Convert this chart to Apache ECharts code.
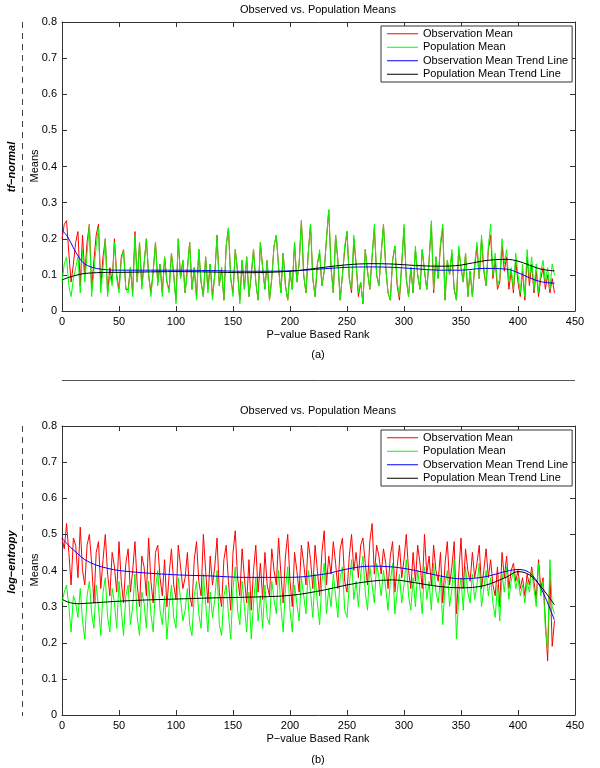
<!DOCTYPE html>
<html>
<head>
<meta charset="utf-8">
<script src="https://cdn.jsdelivr.net/npm/echarts@6/dist/echarts.min.js"></script>
<style>html,body{margin:0;padding:0;background:#fff}#c{width:600px;height:768px}</style>
</head>
<body>
<div id="c"></div>
<script>
// ---------- DATA ----------
const seriesNames = ['Observation Mean', 'Population Mean', 'Observation Mean Trend Line', 'Population Mean Trend Line'];
const xTicks = [0, 50, 100, 150, 200, 250, 300, 350, 400, 450];
const yTicks = [0, 0.1, 0.2, 0.3, 0.4, 0.5, 0.6, 0.7, 0.8];
// ranks sampled every 2 (0,2,...,432)
const ranks = Array.from({length: 217}, (_, i) => i * 2);

// (a) tf-normal
const aObs = [
0.20,0.24,0.25,0.16,0.08,0.13,0.19,0.22,0.07,0.21,
0.10,0.19,0.24,0.06,0.14,0.21,0.24,0.07,0.15,0.20,
0.05,0.12,0.08,0.20,0.10,0.06,0.15,0.17,0.06,0.06,
0.12,0.05,0.22,0.08,0.19,0.07,0.13,0.20,0.10,0.05,
0.11,0.19,0.08,0.13,0.05,0.15,0.08,0.06,0.16,0.10,
0.03,0.20,0.09,0.14,0.05,0.12,0.19,0.06,0.12,0.04,
0.17,0.08,0.04,0.15,0.06,0.13,0.04,0.10,0.21,0.07,
0.12,0.03,0.18,0.23,0.09,0.05,0.17,0.11,0.03,0.14,
0.06,0.15,0.04,0.10,0.17,0.08,0.03,0.19,0.12,0.06,
0.14,0.03,0.09,0.18,0.21,0.12,0.05,0.16,0.07,0.03,
0.11,0.06,0.19,0.08,0.13,0.25,0.10,0.05,0.16,0.24,
0.09,0.04,0.13,0.16,0.07,0.11,0.20,0.28,0.12,0.05,
0.21,0.14,0.03,0.10,0.17,0.22,0.09,0.05,0.20,0.13,
0.04,0.08,0.02,0.17,0.11,0.06,0.15,0.23,0.10,0.07,
0.16,0.24,0.12,0.05,0.03,0.14,0.18,0.07,0.03,0.13,
0.23,0.09,0.04,0.12,0.05,0.17,0.10,0.06,0.17,0.11,
0.06,0.14,0.24,0.05,0.15,0.09,0.18,0.23,0.03,0.14,
0.10,0.16,0.06,0.03,0.17,0.12,0.08,0.16,0.04,0.11,
0.04,0.12,0.18,0.09,0.20,0.11,0.07,0.17,0.21,0.09,
0.14,0.06,0.08,0.18,0.11,0.15,0.06,0.11,0.05,0.14,
0.08,0.04,0.11,0.03,0.15,0.07,0.13,0.05,0.11,0.04,
0.09,0.12,0.06,0.10,0.05,0.09,0.05];
const aPop = [
0.08,0.13,0.15,0.07,0.04,0.09,0.12,0.15,0.05,0.17,
0.08,0.16,0.24,0.04,0.11,0.18,0.23,0.05,0.12,0.20,
0.04,0.10,0.07,0.19,0.09,0.05,0.14,0.17,0.06,0.05,
0.12,0.04,0.21,0.08,0.19,0.06,0.13,0.20,0.10,0.04,
0.11,0.19,0.07,0.13,0.04,0.15,0.08,0.05,0.16,0.10,
0.02,0.20,0.09,0.14,0.05,0.11,0.19,0.06,0.12,0.03,
0.17,0.08,0.04,0.15,0.05,0.13,0.03,0.10,0.21,0.07,
0.12,0.03,0.18,0.23,0.09,0.04,0.17,0.11,0.02,0.14,
0.06,0.15,0.04,0.10,0.17,0.08,0.03,0.19,0.12,0.06,
0.14,0.03,0.09,0.18,0.21,0.12,0.05,0.16,0.07,0.03,
0.11,0.06,0.19,0.08,0.13,0.25,0.10,0.05,0.16,0.24,
0.09,0.04,0.13,0.17,0.07,0.11,0.20,0.28,0.12,0.05,
0.21,0.14,0.03,0.10,0.18,0.22,0.09,0.06,0.21,0.13,
0.05,0.08,0.02,0.17,0.11,0.06,0.15,0.24,0.10,0.07,
0.16,0.24,0.12,0.05,0.03,0.14,0.18,0.08,0.04,0.13,
0.24,0.09,0.04,0.12,0.05,0.18,0.10,0.06,0.17,0.11,
0.06,0.14,0.25,0.06,0.15,0.09,0.19,0.24,0.03,0.14,
0.10,0.17,0.06,0.03,0.18,0.12,0.08,0.16,0.04,0.11,
0.04,0.13,0.19,0.09,0.21,0.12,0.07,0.18,0.24,0.10,
0.16,0.07,0.09,0.20,0.13,0.17,0.08,0.12,0.06,0.16,
0.10,0.05,0.13,0.04,0.17,0.09,0.15,0.06,0.13,0.05,
0.11,0.14,0.08,0.12,0.06,0.13,0.10];
const trendRanks = [0,5,10,15,20,30,40,50,70,100,130,160,200,230,250,270,290,310,330,350,370,390,400,410,420,432];
const aObsTrend = [0.224,0.205,0.175,0.148,0.130,0.118,0.114,0.113,0.113,0.113,0.112,0.110,0.111,0.117,0.121,0.122,0.121,0.117,0.113,0.113,0.118,0.116,0.106,0.092,0.081,0.077];
const aPopTrend = [0.086,0.092,0.097,0.101,0.104,0.106,0.107,0.107,0.108,0.109,0.108,0.106,0.110,0.121,0.128,0.131,0.130,0.126,0.124,0.127,0.139,0.143,0.138,0.127,0.116,0.111];

// (b) log-entropy
const bObs = [
0.49,0.46,0.53,0.45,0.36,0.49,0.47,0.38,0.52,0.40,
0.36,0.47,0.50,0.42,0.31,0.45,0.48,0.35,0.43,0.50,
0.39,0.33,0.45,0.41,0.34,0.48,0.37,0.31,0.42,0.46,
0.34,0.40,0.48,0.36,0.30,0.44,0.41,0.33,0.49,0.37,
0.31,0.45,0.47,0.38,0.33,0.43,0.30,0.39,0.46,0.36,
0.32,0.47,0.41,0.35,0.38,0.45,0.33,0.30,0.43,0.48,
0.37,0.33,0.50,0.40,0.31,0.44,0.36,0.41,0.49,0.34,
0.30,0.43,0.47,0.37,0.29,0.45,0.51,0.38,0.33,0.46,
0.38,0.31,0.43,0.29,0.40,0.47,0.34,0.42,0.32,0.45,
0.36,0.33,0.46,0.40,0.36,0.49,0.39,0.31,0.44,0.50,
0.37,0.30,0.45,0.40,0.34,0.47,0.42,0.36,0.48,0.43,
0.35,0.47,0.40,0.33,0.45,0.51,0.36,0.44,0.39,0.48,
0.42,0.35,0.46,0.49,0.37,0.34,0.44,0.50,0.40,0.45,
0.38,0.47,0.49,0.42,0.36,0.48,0.53,0.39,0.47,0.44,
0.39,0.46,0.42,0.35,0.44,0.48,0.34,0.41,0.47,0.38,
0.43,0.50,0.40,0.35,0.45,0.37,0.47,0.42,0.35,0.50,
0.39,0.44,0.36,0.47,0.40,0.37,0.45,0.31,0.42,0.48,
0.36,0.41,0.48,0.28,0.39,0.49,0.35,0.46,0.40,0.37,
0.45,0.38,0.42,0.47,0.35,0.40,0.46,0.38,0.43,0.36,
0.33,0.41,0.30,0.45,0.38,0.44,0.35,0.40,0.42,0.37,
0.40,0.35,0.38,0.33,0.39,0.36,0.41,0.37,0.32,0.43,
0.35,0.38,0.26,0.15,0.40,0.19,0.26];
const bPop = [
0.31,0.34,0.36,0.30,0.23,0.33,0.31,0.27,0.35,0.26,
0.21,0.33,0.37,0.28,0.24,0.36,0.30,0.22,0.34,0.38,
0.27,0.23,0.35,0.31,0.24,0.37,0.29,0.22,0.33,0.36,
0.25,0.30,0.39,0.27,0.22,0.34,0.31,0.24,0.37,0.28,
0.23,0.35,0.40,0.29,0.25,0.33,0.21,0.30,0.36,0.27,
0.24,0.38,0.32,0.26,0.29,0.35,0.25,0.22,0.33,0.37,
0.28,0.24,0.39,0.31,0.23,0.34,0.27,0.32,0.40,0.25,
0.22,0.33,0.36,0.28,0.21,0.35,0.41,0.29,0.25,0.37,
0.30,0.23,0.34,0.21,0.31,0.38,0.26,0.33,0.24,0.36,
0.27,0.25,0.37,0.32,0.28,0.40,0.30,0.23,0.35,0.41,
0.29,0.23,0.36,0.31,0.26,0.38,0.33,0.28,0.40,0.34,
0.27,0.39,0.31,0.25,0.37,0.42,0.28,0.35,0.30,0.39,
0.33,0.27,0.38,0.41,0.29,0.27,0.36,0.43,0.32,0.37,
0.30,0.39,0.44,0.34,0.29,0.41,0.36,0.31,0.42,0.38,
0.33,0.40,0.35,0.29,0.37,0.42,0.28,0.34,0.39,0.31,
0.36,0.43,0.33,0.29,0.38,0.30,0.40,0.35,0.28,0.41,
0.32,0.37,0.29,0.42,0.34,0.31,0.38,0.25,0.36,0.40,
0.30,0.35,0.43,0.21,0.33,0.38,0.29,0.41,0.34,0.31,
0.39,0.32,0.36,0.42,0.30,0.35,0.40,0.33,0.38,0.31,
0.27,0.36,0.26,0.39,0.34,0.41,0.32,0.37,0.40,0.35,
0.38,0.33,0.36,0.31,0.37,0.34,0.40,0.35,0.30,0.42,
0.33,0.37,0.24,0.18,0.43,0.30,0.28];
const bObsTrend = [0.490,0.472,0.457,0.443,0.430,0.415,0.406,0.400,0.394,0.388,0.385,0.381,0.381,0.390,0.404,0.412,0.410,0.400,0.386,0.377,0.382,0.398,0.403,0.394,0.352,0.262];
const bPopTrend = [0.320,0.313,0.309,0.308,0.309,0.311,0.313,0.315,0.318,0.321,0.324,0.326,0.331,0.346,0.360,0.370,0.374,0.366,0.356,0.352,0.358,0.382,0.397,0.388,0.356,0.305];

[aObs, aPop, bObs, bPop].forEach(a => { if (a.length !== ranks.length) throw new Error('length ' + a.length); });

// ---------- CHART ----------
const FONT = 'Liberation Sans, Arial, Helvetica, sans-serif';
const pair = (xs, ys) => ys.map((v, i) => [xs[i], v]);
const colors = ['#ff0000', '#00ff00', '#0000ff', '#000000'];
const grids = [{left: 62, top: 22, width: 513, height: 289}, {left: 62, top: 426, width: 513, height: 289}];
const axisColor = '#333';

function xAx(gi, pos) {
  return {
    type: 'value', gridIndex: gi, position: pos, min: xTicks[0], max: xTicks[xTicks.length - 1], interval: 50,
    axisLine: {show: true, onZero: false, lineStyle: {color: axisColor, width: 1}},
    axisTick: {show: true, inside: true, length: 5, lineStyle: {color: axisColor}},
    axisLabel: {show: pos === 'bottom', color: '#000', fontFamily: FONT, fontSize: 11, margin: 5},
    splitLine: {show: false}
  };
}
function yAx(gi, pos) {
  return {
    type: 'value', gridIndex: gi, position: pos, min: yTicks[0], max: yTicks[yTicks.length - 1], interval: 0.1,
    axisLine: {show: true, onZero: false, lineStyle: {color: axisColor, width: 1}},
    axisTick: {show: true, inside: true, length: 5, lineStyle: {color: axisColor}},
    axisLabel: {show: pos === 'left', color: '#000', fontFamily: FONT, fontSize: 11, margin: 5,
      formatter: v => (Math.round(v * 10) / 10).toString()},
    splitLine: {show: false}
  };
}

function lineSeries(name, data, gi, color) {
  return {
    type: 'line', name, data, xAxisIndex: gi * 2, yAxisIndex: gi * 2,
    symbol: 'none', showSymbol: false, lineStyle: {color, width: 1}, itemStyle: {color},
    silent: true
  };
}
function trendSeries(name, xs, ys, gi, color) {
  const s = lineSeries(name, pair(xs, ys), gi, color);
  s.smooth = 0.35;
  return s;
}

function legendAt(top) {
  return {
    orient: 'vertical', left: 381, top, itemWidth: 31, itemHeight: 13.5, itemGap: 0,
    icon: 'path://M0,0H62V2H0Z',
    padding: [1, 4, 1, 6], borderColor: '#333', borderWidth: 1, backgroundColor: '#fff',
    data: seriesNames, selectedMode: false,
    textStyle: {fontFamily: FONT, fontSize: 11, color: '#000', lineHeight: 13.5}
  };
}

function txt(text, x, y, extra) {
  return Object.assign({type: 'text', x, y, silent: true,
    style: Object.assign({text, fill: '#000', font: '11px ' + FONT, textAlign: 'center', textVerticalAlign: 'middle'}, extra || {})});
}
function rotTxt(text, x, y, font) {
  return {type: 'text', x, y, rotation: Math.PI / 2, silent: true,
    style: {text, fill: '#000', font, textAlign: 'center', textVerticalAlign: 'middle'}};
}
function dashed(y1, y2) {
  return {type: 'line', silent: true, shape: {x1: 22.5, y1, x2: 22.5, y2}, style: {stroke: '#444', lineWidth: 1, lineDash: [6, 5]}};
}

const option = {
  animation: false,
  backgroundColor: '#fff',
  grid: grids,
  xAxis: [xAx(0, 'bottom'), xAx(0, 'top'), xAx(1, 'bottom'), xAx(1, 'top')],
  yAxis: [yAx(0, 'left'), yAx(0, 'right'), yAx(1, 'left'), yAx(1, 'right')],
  legend: [legendAt(26), legendAt(430)],
  series: [
    lineSeries(seriesNames[0], pair(ranks, aObs), 0, colors[0]),
    lineSeries(seriesNames[1], pair(ranks, aPop), 0, colors[1]),
    trendSeries(seriesNames[2], trendRanks, aObsTrend, 0, colors[2]),
    trendSeries(seriesNames[3], trendRanks, aPopTrend, 0, colors[3]),
    lineSeries(seriesNames[0], pair(ranks, bObs), 1, colors[0]),
    lineSeries(seriesNames[1], pair(ranks, bPop), 1, colors[1]),
    trendSeries(seriesNames[2], trendRanks, bObsTrend, 1, colors[2]),
    trendSeries(seriesNames[3], trendRanks, bPopTrend, 1, colors[3])
  ],
  graphic: [
    txt('Observed vs. Population Means', 318, 10),
    txt('P\u2212value Based Rank', 318, 335),
    txt('(a)', 318, 355),
    {type: 'line', silent: true, shape: {x1: 62, y1: 380.5, x2: 575, y2: 380.5}, style: {stroke: '#555', lineWidth: 1}},
    txt('Observed vs. Population Means', 318, 411),
    txt('P\u2212value Based Rank', 318, 739),
    txt('(b)', 318, 760),
    rotTxt('Means', 35, 166, '11px ' + FONT),
    rotTxt('Means', 35, 570, '11px ' + FONT),
    rotTxt('tf\u2212normal', 12, 167, 'italic bold 11px ' + FONT),
    rotTxt('log\u2212entropy', 12, 562, 'italic bold 11px ' + FONT),
    dashed(22, 312),
    dashed(426, 716)
  ]
};

const chart = echarts.init(document.getElementById('c'), null, {renderer: 'canvas'});
chart.setOption(option);
</script>
</body>
</html>
